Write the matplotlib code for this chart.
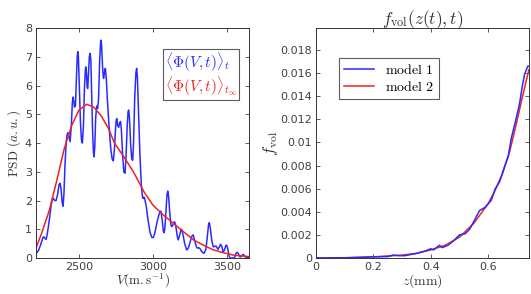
import matplotlib
matplotlib.use("Agg")
import matplotlib.pyplot as plt
from matplotlib.ticker import FuncFormatter

plt.rcParams['mathtext.fontset'] = 'cm'
plt.rcParams['font.family'] = 'DejaVu Sans'

# left panel: PSD vs V (blue)
v_blue = [2210, 2225, 2240, 2255, 2262, 2270, 2278, 2286, 2300, 2312, 2320, 2326,
          2335, 2345, 2355, 2365, 2372, 2379, 2386, 2392, 2398, 2405, 2413, 2420,
          2426, 2433, 2440, 2448, 2455, 2460, 2465, 2470, 2476, 2482, 2488, 2492,
          2496, 2502, 2510, 2517, 2523, 2530, 2537, 2543, 2546, 2551, 2555, 2559,
          2564, 2570, 2575, 2580, 2586, 2592, 2598, 2602, 2607, 2613, 2620, 2626,
          2632, 2640, 2646, 2649, 2653, 2659, 2664, 2667, 2672, 2678, 2684, 2692,
          2703, 2715, 2724, 2732, 2740, 2747, 2752, 2756, 2762, 2768, 2775, 2781,
          2786, 2795, 2803, 2811, 2818, 2826, 2832, 2836, 2841, 2850, 2857, 2863,
          2869, 2877, 2885, 2890, 2895, 2903, 2912, 2922, 2930, 2935, 2940, 2945,
          2955, 2965, 2980, 2992, 3002, 3012, 3030, 3045, 3054, 3062, 3070, 3075,
          3080, 3088, 3095, 3100, 3106, 3115, 3122, 3127, 3135, 3142, 3147, 3155,
          3165, 3171, 3180, 3188, 3194, 3202, 3215, 3228, 3240, 3255, 3265, 3273,
          3282, 3293, 3302, 3310, 3318, 3330, 3345, 3358, 3368, 3376, 3381, 3388,
          3398, 3408, 3417, 3426, 3433, 3440, 3450, 3458, 3466, 3475, 3485, 3493,
          3498, 3505, 3515, 3521, 3545, 3555, 3563, 3570, 3578, 3590, 3600, 3607,
          3611, 3618, 3630, 3650]
psd_blue = [0.16, 0.25, 0.45, 0.70, 0.74, 0.68, 0.65, 0.85, 1.35, 1.85, 2.05, 2.08,
            2.00, 2.00, 2.20, 2.55, 2.60, 2.40, 1.95, 1.80, 2.20, 3.20, 4.00, 4.30,
            4.36, 4.20, 4.05, 4.60, 5.40, 5.60, 5.45, 5.25, 5.30, 6.20, 7.00, 7.18,
            7.00, 6.00, 4.70, 4.10, 4.00, 4.60, 5.90, 6.55, 6.65, 6.40, 5.95, 5.90,
            6.40, 7.00, 7.12, 6.90, 5.70, 4.40, 3.65, 3.52, 3.90, 4.90, 5.29, 5.20,
            5.50, 6.90, 7.50, 7.58, 7.40, 6.70, 6.30, 6.25, 6.45, 6.60, 6.30, 5.50,
            4.60, 3.80, 3.45, 3.38, 3.80, 4.50, 4.80, 4.85, 4.60, 4.55, 4.70, 4.75,
            4.50, 3.60, 3.00, 2.95, 3.50, 4.60, 5.10, 5.15, 4.90, 3.90, 3.45, 3.40,
            4.00, 5.60, 6.45, 6.60, 6.30, 5.00, 3.60, 2.50, 2.10, 2.07, 2.12, 2.05,
            1.80, 1.40, 0.90, 0.72, 0.71, 0.85, 1.30, 1.58, 1.63, 1.35, 0.95, 0.88,
            1.00, 1.60, 2.20, 2.33, 2.15, 1.50, 1.15, 1.09, 1.15, 1.24, 1.26, 1.10,
            0.75, 0.63, 0.78, 0.95, 1.00, 0.85, 0.50, 0.28, 0.35, 0.62, 0.78, 0.80,
            0.62, 0.40, 0.34, 0.36, 0.33, 0.22, 0.16, 0.30, 0.75, 1.15, 1.23, 1.05,
            0.60, 0.39, 0.40, 0.42, 0.36, 0.30, 0.40, 0.48, 0.40, 0.20, 0.30, 0.43,
            0.45, 0.35, 0.08, 0.00, 0.00, 0.05, 0.17, 0.20, 0.15, 0.03, 0.08, 0.12,
            0.13, 0.08, 0.02, 0.02]

v_red = [2210, 2250, 2300, 2350, 2400, 2450, 2500, 2552, 2600, 2650, 2700, 2740,
         2800, 2868, 2940, 3000, 3070, 3140, 3210, 3275, 3340, 3410, 3480, 3545, 3600, 3650]
psd_red = [0.35, 0.9, 1.67, 2.7, 3.8, 4.6, 5.15, 5.35, 5.25, 4.95, 4.5, 4.0,
           3.55, 3.0, 2.3, 1.84, 1.5, 1.2, 0.9, 0.63, 0.45, 0.28, 0.18, 0.1, 0.07, 0.05]

# right panel: f_vol vs z
z_blue = [0, 0.05, 0.1, 0.15, 0.2, 0.25, 0.27, 0.29, 0.31, 0.35, 0.38, 0.4, 0.41,
          0.43, 0.44, 0.46, 0.48, 0.5, 0.52, 0.536, 0.555, 0.57, 0.59, 0.611, 0.625,
          0.64, 0.657, 0.67, 0.681, 0.695, 0.709, 0.72, 0.727, 0.738, 0.742]
f_blue = [0, 0.00001, 0.00002, 0.00005, 0.0001, 0.00012, 0.00026, 0.0002, 0.0002,
          0.0004, 0.0006, 0.0008, 0.0007, 0.0011, 0.0009, 0.0011, 0.0015, 0.0020,
          0.0021, 0.0025, 0.0034, 0.0041, 0.0044, 0.0050, 0.0060, 0.0066, 0.0079,
          0.0088, 0.0104, 0.0118, 0.0133, 0.0150, 0.0159, 0.0166, 0.0166]

z_red = [0, 0.1, 0.2, 0.3, 0.35, 0.4, 0.45, 0.5, 0.55, 0.6, 0.625, 0.65, 0.675,
         0.7, 0.72, 0.742]
f_red = [0, 0.00002, 0.0001, 0.00025, 0.0004, 0.0007, 0.0011, 0.0018, 0.0030,
         0.0047, 0.0059, 0.0073, 0.0092, 0.0118, 0.0140, 0.0163]

tick_col = '#404040'
blue = '#2a2aff'
red = '#ee2222'

fig = plt.figure(figsize=(5.31, 2.94), dpi=100)
ax1 = fig.add_axes([0.068, 0.1224, 0.401, 0.782])
ax2 = fig.add_axes([0.595, 0.1224, 0.401, 0.782])

ax1.plot(v_blue, psd_blue, color=blue, lw=1.1)
ax1.plot(v_red, psd_red, color=red, lw=1.1)
ax1.set_xlim(2210, 3650)
ax1.set_ylim(0, 8)
ax1.set_xticks([2500, 3000, 3500])
ax1.set_yticks(range(0, 9))
ax1.set_xlabel(r'$V(\mathrm{m.s^{-1}})$', fontsize=9.5, labelpad=0, color='#333333')
ax1.set_ylabel(r'$\mathrm{PSD}\ (a.u.)$', fontsize=9.5, labelpad=1, color='#333333')

h1, = ax1.plot([], [], color='none')
h2, = ax1.plot([], [], color='none')
leg1 = ax1.legend([h1, h2], [r'$\langle\Phi(V,t)\rangle_t$', r'$\langle\Phi(V,t)\rangle_{t_\infty}$'],
                  loc='upper right', bbox_to_anchor=(0.955, 0.91), fontsize=11,
                  handlelength=0, handletextpad=0, fancybox=False, edgecolor='#333333',
                  borderpad=0.15, labelspacing=0.0, borderaxespad=0)
leg1.get_frame().set_linewidth(0.8)
leg1.get_texts()[0].set_color(blue)
leg1.get_texts()[1].set_color(red)

ax2.plot(z_red, f_red, color=red, lw=1.1, label='model 2', zorder=2)
ax2.plot(z_blue, f_blue, color=blue, lw=1.1, label='model 1', zorder=3)
ax2.set_xlim(0, 0.742)
ax2.set_ylim(0, 0.0199)
ax2.set_xticks([0, 0.2, 0.4, 0.6])
ax2.set_yticks([i * 0.002 for i in range(10)])
ax2.yaxis.set_major_formatter(FuncFormatter(lambda v, p: '%g' % round(v, 4)))
ax2.xaxis.set_major_formatter(FuncFormatter(lambda v, p: '%g' % round(v, 2)))
ax2.set_xlabel(r'$z(\mathrm{mm})$', fontsize=10, labelpad=0, color='#333333')
ax2.set_ylabel(r'$f_{\mathrm{vol}}$', fontsize=12, labelpad=0, color='#333333')
ax2.set_title(r'$f_{\mathrm{vol}}(z(t),t)$', fontsize=12.5, pad=3, color='#333333')
hs, ls = ax2.get_legend_handles_labels()
leg2 = ax2.legend(hs[::-1], [r'$\mathrm{model\ 1}$', r'$\mathrm{model\ 2}$'],
                  loc='upper left', bbox_to_anchor=(0.108, 0.87), fontsize=10,
                  fancybox=False, edgecolor='#333333', handlelength=2.2,
                  borderpad=0.35, labelspacing=0.25, borderaxespad=0)
leg2.get_frame().set_linewidth(0.8)

for ax in (ax1, ax2):
    ax.tick_params(direction='in', top=True, right=True, labelsize=8,
                   colors=tick_col, length=3, width=0.6, pad=3)
    for s in ax.spines.values():
        s.set_color('#333333')
        s.set_linewidth(0.7)

fig.savefig('out.png', dpi=100)
